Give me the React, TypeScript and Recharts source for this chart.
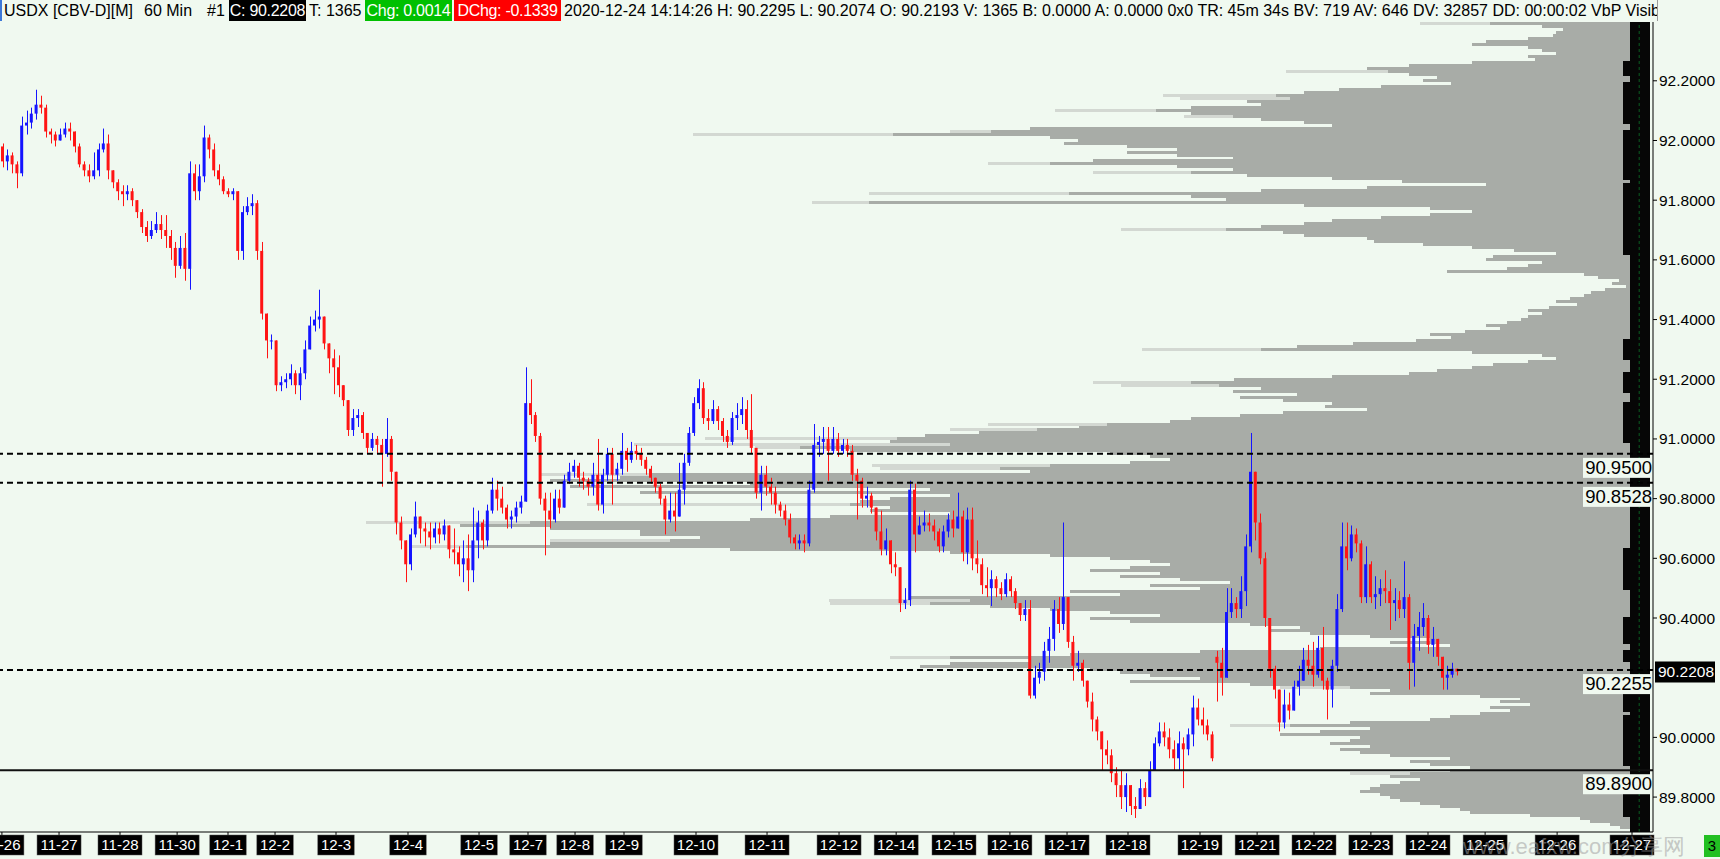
import React from 'react';
import { ComposedChart, BarChart, Bar, XAxis, YAxis, ReferenceLine } from 'recharts';

// chart canvas and plot box
const W = 1720;
const H = 859;
const PLOT_TOP = 22;
const AXIS_W = 67;
const AXIS_H = 27;
const BG = '#f0f9f0';
const UP = '#1414ff';
const DOWN = '#ff1414';
const FONT = '"Liberation Sans", Arial, sans-serif';

// 2-hour candles (open = previous close unless listed)
const FIRST_OPEN = 91.98;
const GAP_OPENS: Record<number, number> = { 253: 90.27 };
const CLOSE = [
  91.93, 91.95, 91.92, 91.89, 92.05, 92.06, 92.09, 92.12, 92.11, 92.03,
  92.02, 92.00, 92.02, 92.04, 92.03, 91.98, 91.92, 91.90, 91.88, 91.90,
  91.97, 91.99, 91.90, 91.86, 91.83, 91.82, 91.83, 91.80, 91.76, 91.71,
  91.68, 91.70, 91.72, 91.70, 91.68, 91.64, 91.58, 91.64, 91.57, 91.89,
  91.83, 91.88, 92.01, 91.97, 91.90, 91.87, 91.83, 91.82, 91.83, 91.63,
  91.76, 91.78, 91.79, 91.63, 91.42, 91.33, 91.33, 91.18, 91.19, 91.20,
  91.22, 91.18, 91.22, 91.30, 91.38, 91.40, 91.41, 91.32, 91.27, 91.24,
  91.18, 91.13, 91.03, 91.07, 91.08, 91.02, 90.97, 91.00, 90.98, 90.95,
  91.00, 90.89, 90.72, 90.66, 90.58, 90.68, 90.74, 90.70, 90.69, 90.67,
  90.70, 90.68, 90.71, 90.63, 90.62, 90.58, 90.60, 90.56, 90.66, 90.72,
  90.66, 90.76, 90.83, 90.80, 90.77, 90.73, 90.74, 90.77, 90.79, 91.12,
  91.08, 91.01, 90.80, 90.76, 90.73, 90.80, 90.77, 90.86, 90.89, 90.91,
  90.87, 90.86, 90.84, 90.88, 90.78, 90.88, 90.95, 90.88, 90.90, 90.96,
  90.93, 90.96, 90.95, 90.93, 90.90, 90.87, 90.84, 90.80, 90.73, 90.76,
  90.74, 90.83, 90.92, 91.02, 91.12, 91.17, 91.07, 91.06, 91.10, 91.06,
  91.01, 90.99, 91.07, 91.08, 91.10, 91.03, 90.97, 90.82, 90.88, 90.84,
  90.82, 90.78, 90.76, 90.73, 90.67, 90.65, 90.66, 90.65, 90.83, 90.98,
  90.99, 91.00, 90.96, 91.00, 90.96, 90.98, 90.96, 90.88, 90.86, 90.80,
  90.81, 90.77, 90.69, 90.63, 90.66, 90.58, 90.57, 90.45, 90.46, 90.83,
  90.68, 90.71, 90.72, 90.71, 90.69, 90.64, 90.69, 90.73, 90.70, 90.74,
  90.62, 90.73, 90.60, 90.58, 90.51, 90.50, 90.53, 90.50, 90.48, 90.53,
  90.49, 90.45, 90.41, 90.43, 90.14, 90.20, 90.22, 90.29, 90.33, 90.43,
  90.38, 90.47, 90.32, 90.24, 90.25, 90.19, 90.12, 90.06, 90.02, 89.96,
  89.94, 89.88, 89.84, 89.80, 89.84, 89.77, 89.76, 89.83, 89.80, 89.89,
  89.98, 90.02, 90.00, 89.96, 89.93, 89.98, 89.96, 90.01, 90.10, 90.06,
  90.04, 90.01, 89.93, 90.25, 90.20, 90.42, 90.45, 90.43, 90.49, 90.64,
  90.89, 90.72, 90.60, 90.40, 90.23, 90.16, 90.05, 90.11, 90.09, 90.17,
  90.19, 90.26, 90.24, 90.21, 90.30, 90.19, 90.16, 90.24, 90.43, 90.64,
  90.60, 90.68, 90.65, 90.47, 90.58, 90.47, 90.48, 90.50, 90.49, 90.45,
  90.46, 90.43, 90.47, 90.25, 90.34, 90.37, 90.40, 90.31, 90.33, 90.27,
  90.20, 90.21, 90.23, 90.2208,
];
const HIGH = [
  91.99, 91.97, 91.96, 91.93, 92.08, 92.10, 92.11, 92.17, 92.15, 92.12,
  92.04, 92.03, 92.04, 92.06, 92.06, 92.03, 91.99, 91.93, 91.92, 91.96,
  91.99, 92.04, 92.02, 91.90, 91.87, 91.85, 91.85, 91.84, 91.80, 91.77,
  91.73, 91.73, 91.76, 91.75, 91.75, 91.70, 91.66, 91.68, 91.69, 91.93,
  91.92, 91.92, 92.05, 92.02, 91.99, 91.92, 91.88, 91.84, 91.84, 91.83,
  91.78, 91.81, 91.82, 91.80, 91.66, 91.42, 91.35, 91.33, 91.21, 91.22,
  91.25, 91.23, 91.24, 91.33, 91.41, 91.43, 91.50, 91.41, 91.31, 91.30,
  91.28, 91.18, 91.13, 91.10, 91.10, 91.09, 91.01, 91.02, 91.01, 91.00,
  91.07, 91.01, 90.89, 90.74, 90.66, 90.70, 90.79, 90.74, 90.72, 90.72,
  90.72, 90.72, 90.73, 90.70, 90.70, 90.64, 90.66, 90.68, 90.77, 90.76,
  90.73, 90.78, 90.87, 90.86, 90.84, 90.78, 90.76, 90.79, 90.81, 91.24,
  91.20, 91.09, 91.02, 90.82, 90.82, 90.83, 90.83, 90.88, 90.92, 90.93,
  90.92, 90.89, 90.87, 90.92, 91.00, 90.90, 90.97, 90.97, 90.92, 91.02,
  90.97, 90.99, 90.98, 90.97, 90.94, 90.91, 90.87, 90.85, 90.81, 90.82,
  90.82, 90.92, 90.95, 91.04, 91.14, 91.20, 91.19, 91.10, 91.13, 91.11,
  91.07, 91.03, 91.09, 91.12, 91.14, 91.13, 91.15, 90.97, 90.91, 90.91,
  90.87, 90.84, 90.79, 90.78, 90.75, 90.68, 90.68, 90.68, 90.86, 91.05,
  91.01, 91.04, 91.04, 91.04, 91.02, 91.00, 91.00, 90.98, 90.90, 90.87,
  90.84, 90.82, 90.77, 90.76, 90.70, 90.64, 90.62, 90.56, 90.50, 90.86,
  90.85, 90.74, 90.76, 90.75, 90.73, 90.70, 90.71, 90.75, 90.76, 90.82,
  90.76, 90.77, 90.77, 90.66, 90.60, 90.57, 90.56, 90.54, 90.52, 90.55,
  90.54, 90.50, 90.45, 90.46, 90.46, 90.24, 90.25, 90.32, 90.37, 90.46,
  90.47, 90.72, 90.47, 90.34, 90.29, 90.26, 90.19, 90.15, 90.07, 90.01,
  89.99, 89.96, 89.90, 89.89, 89.88, 89.83, 89.80, 89.86, 89.85, 89.92,
  90.00, 90.05, 90.05, 90.03, 89.99, 90.02, 90.00, 90.03, 90.14, 90.13,
  90.10, 90.06, 90.02, 90.29, 90.30, 90.50, 90.50, 90.47, 90.54, 90.68,
  91.02, 90.89, 90.75, 90.62, 90.40, 90.24, 90.16, 90.16, 90.15, 90.19,
  90.24, 90.30, 90.31, 90.32, 90.34, 90.37, 90.20, 90.26, 90.48, 90.72,
  90.72, 90.71, 90.70, 90.66, 90.64, 90.59, 90.54, 90.53, 90.56, 90.53,
  90.50, 90.49, 90.59, 90.48, 90.38, 90.42, 90.45, 90.41, 90.37, 90.33,
  90.27, 90.24, 90.25, 90.2295,
];
const LOW = [
  91.91, 91.90, 91.89, 91.84, 91.88, 92.02, 92.04, 92.07, 92.09, 92.01,
  91.99, 91.98, 92.00, 92.01, 92.00, 91.96, 91.91, 91.88, 91.86, 91.87,
  91.88, 91.96, 91.87, 91.84, 91.80, 91.78, 91.80, 91.78, 91.74, 91.69,
  91.66, 91.67, 91.69, 91.67, 91.64, 91.60, 91.54, 91.57, 91.53, 91.50,
  91.80, 91.80, 91.86, 91.94, 91.88, 91.85, 91.82, 91.81, 91.80, 91.60,
  91.60, 91.75, 91.75, 91.60, 91.40, 91.27, 91.30, 91.16, 91.16, 91.17,
  91.18, 91.15, 91.13, 91.20, 91.30, 91.36, 91.37, 91.30, 91.22, 91.15,
  91.14, 91.11, 91.01, 91.01, 91.04, 91.00, 90.95, 90.96, 90.95, 90.84,
  90.94, 90.86, 90.68, 90.63, 90.52, 90.56, 90.67, 90.65, 90.64, 90.63,
  90.65, 90.65, 90.66, 90.60, 90.58, 90.54, 90.52, 90.49, 90.52, 90.60,
  90.63, 90.64, 90.75, 90.76, 90.75, 90.70, 90.70, 90.72, 90.75, 90.79,
  91.05, 90.99, 90.78, 90.61, 90.70, 90.72, 90.75, 90.78, 90.85, 90.87,
  90.84, 90.83, 90.81, 90.81, 90.76, 90.75, 90.86, 90.78, 90.86, 90.88,
  90.89, 90.92, 90.93, 90.91, 90.88, 90.85, 90.82, 90.78, 90.68, 90.72,
  90.69, 90.76, 90.78, 90.91, 91.01, 91.10, 91.05, 91.03, 91.05, 91.03,
  90.99, 90.97, 90.98, 91.03, 91.05, 91.00, 90.95, 90.80, 90.76, 90.81,
  90.78, 90.75, 90.74, 90.71, 90.65, 90.63, 90.63, 90.62, 90.64, 90.82,
  90.94, 90.95, 90.86, 90.95, 90.94, 90.95, 90.94, 90.86, 90.73, 90.77,
  90.77, 90.75, 90.66, 90.61, 90.61, 90.55, 90.54, 90.42, 90.43, 90.44,
  90.62, 90.68, 90.69, 90.69, 90.66, 90.62, 90.62, 90.67, 90.67, 90.70,
  90.59, 90.58, 90.56, 90.55, 90.48, 90.47, 90.44, 90.47, 90.46, 90.47,
  90.47, 90.43, 90.39, 90.39, 90.13, 90.13, 90.18, 90.19, 90.25, 90.29,
  90.35, 90.36, 90.30, 90.19, 90.22, 90.17, 90.10, 90.02, 89.99, 89.89,
  89.91, 89.85, 89.80, 89.76, 89.75, 89.74, 89.73, 89.76, 89.77, 89.80,
  89.89, 89.97, 89.97, 89.93, 89.89, 89.89, 89.83, 89.94, 89.97, 90.04,
  90.01, 89.99, 89.92, 90.12, 90.14, 90.27, 90.40, 90.40, 90.40, 90.44,
  90.62, 90.66, 90.58, 90.37, 90.20, 90.13, 90.02, 90.03, 90.06, 90.09,
  90.14, 90.20, 90.21, 90.17, 90.20, 90.16, 90.06, 90.10, 90.22, 90.42,
  90.56, 90.59, 90.62, 90.45, 90.45, 90.45, 90.43, 90.44, 90.45, 90.36,
  90.39, 90.40, 90.40, 90.16, 90.17, 90.29, 90.34, 90.28, 90.27, 90.24,
  90.16, 90.16, 90.20, 90.2074,
];

// time axis (positions in candle slots) and price axis
const SLOT_MAX = 344.375;
const TIME_TICK_POS = [
  0.4, 12.3, 25, 36.9, 47.5, 57.3, 70, 85, 99.8, 110, 119.8, 130, 145, 159.8,
  174.8, 186.7, 198.75, 210.4, 222.3, 235, 250, 261.9, 273.75, 285.6, 297.5,
  309.4, 324.4, 340,
];
const TIME_TICK_LABELS = [
  '11-26', '11-27', '11-28', '11-30', '12-1', '12-2', '12-3', '12-4', '12-5',
  '12-7', '12-8', '12-9', '12-10', '12-11', '12-12', '12-14', '12-15', '12-16',
  '12-17', '12-18', '12-19', '12-21', '12-22', '12-23', '12-24', '12-25',
  '12-26', '12-27',
];
const PRICE_MIN = 89.683;
const PRICE_MAX = 92.397;
const PRICE_TICKS = [89.8, 90.0, 90.4, 90.6, 90.8, 91.0, 91.2, 91.4, 91.6, 91.8, 92.0, 92.2];
const DASHED_LEVELS = [90.95, 90.8528, 90.2255];
const SOLID_LEVELS = [89.89];
const LAST_PRICE = 90.2208;

// volume-by-price, one row per 0.01 from 92.39 down to 89.69
const PROFILE_TOP = 92.39;
const PROFILE_VOL = [
  160, 108, 87, 94, 97, 122, 164, 178, 122, 108,
  94, 122, 115, 178, 241, 283, 262, 241, 213, 227,
  199, 269, 311, 346, 374, 360, 403, 389, 459, 494,
  459, 417, 389, 346, 318, 620, 659, 757, 600, 572,
  586, 523, 473, 523, 473, 417, 557, 600, 473, 417,
  459, 403, 318, 248, 164, 283, 389, 581, 459, 424,
  781, 346, 220, 178, 220, 269, 318, 346, 389, 424,
  367, 346, 283, 276, 227, 178, 136, 94, 157, 164,
  108, 122, 143, 203, 66, 52, 31, 38, 24, 45,
  59, 66, 80, 94, 73, 101, 122, 108, 122, 129,
  143, 164, 150, 185, 220, 199, 234, 297, 353, 389,
  178, 108, 94, 122, 157, 178, 213, 241, 318, 416,
  459, 431, 389, 417, 353, 410, 367, 318, 325, 283,
  367, 410, 459, 480, 543, 571, 613, 671, 725, 753,
  760, 700, 850, 800, 540, 500, 480, 520, 600, 650,
  620, 1000, 1030, 1100, 900, 1080, 720, 1010, 700, 760,
  790, 800, 760, 780, 700, 820, 900, 1120, 1190, 1100,
  1010, 1010, 950, 980, 1100, 1184, 920, 700, 600, 540,
  500, 480, 520, 560, 490, 530, 470, 420, 500, 450,
  580, 530, 740, 680, 720, 660, 600, 540, 490, 560,
  520, 400, 350, 380, 340, 280, 220, 260, 200, 330,
  450, 580, 700, 620, 700, 730, 560, 530, 500, 450,
  520, 400, 300, 260, 280, 170, 130, 150, 120, 160,
  140, 170, 200, 220, 300, 360, 280, 330, 370, 290,
  300, 320, 280, 310, 290, 260, 200, 240, 220, 180,
  200, 240, 260, 230, 250, 270, 280, 290, 270, 260,
  250, 230, 210, 190, 180, 120, 70, 60, 40, 30,
  20,
];
// thin pale streaks that reach past the profile edge
const PROFILE_LIGHT: [number, number][] = [
  [92.39, 230], [92.23, 364], [92.15, 487], [92.14, 470], [92.10, 595], [92.08, 466],
  [92.03, 700], [92.02, 957], [91.92, 662], [91.89, 557], [91.82, 781], [91.79, 838],
  [91.70, 529], [91.30, 508], [91.19, 557], [91.18, 529], [91.05, 662], [91.03, 700],
  [91.00, 945], [90.98, 1016], [90.97, 895], [90.91, 778], [90.90, 770], [90.88, 1110],
  [90.78, 1063], [90.72, 1284], [90.66, 1100], [90.64, 1238], [90.46, 821], [90.45, 820],
  [90.27, 760], [90.17, 370], [90.04, 420], [89.88, 300],
];
// dark strip at the profile base, wider on these rows
const BLACK_BASE = 20;
const BLACK_WIDE = 27;
const BLACK_WIDE_ROWS: [number, number][] = [
  [13, 17], [20, 33], [36, 52], [54, 62], [63, 77], [106, 112], [117, 123], [127, 140],
  [176, 189], [199, 207], [210, 213], [223, 230], [232, 248], [258, 265],
];
const PROFILE_MAX = 1650;

const candles = CLOSE.map((c, k) => {
  const o = k === 0 ? FIRST_OPEN : GAP_OPENS[k] ?? CLOSE[k - 1];
  const h = Math.max(HIGH[k], o, c);
  const l = Math.min(LOW[k], o, c);
  return { slot: k + 0.5, o, h, l, c, range: [l, h] };
});

const profileRows = PROFILE_VOL.map((v, r) => {
  const price = +(PROFILE_TOP - r * 0.01).toFixed(2);
  const wide = BLACK_WIDE_ROWS.some(([a, b]) => r >= a && r <= b);
  const black = Math.min(v, wide ? BLACK_WIDE : BLACK_BASE);
  const pale = PROFILE_LIGHT.find(([p]) => Math.abs(p - price) < 0.001);
  return { price: price.toFixed(2), black, gray: Math.max(0, v - black), light: pale ? pale[1] : 0 };
});

// candle body + wick from the [low, high] bar the library lays out
const Candle = (props: any) => {
  let { x, y, width, height } = props;
  const { o, h, l, c } = props.payload;
  if (height < 0) { y += height; height = -height; }
  const color = c >= o ? UP : DOWN;
  const per = height / Math.max(h - l, 1e-6);
  const bodyTop = y + (h - Math.max(o, c)) * per;
  const bodyH = Math.max(1, Math.abs(c - o) * per);
  const cx = Math.round(x + width / 2) + 0.5;
  return (
    <g>
      <line x1={cx} x2={cx} y1={y} y2={y + Math.max(height, 1)} stroke={color} strokeWidth={1} />
      <rect x={x} y={bodyTop} width={width} height={bodyH} fill={color} />
    </g>
  );
};

// profile row without anti-aliased seams
const Row = (props: any) => {
  let { x, y, width, height, fill } = props;
  if (!width || !height) return null;
  if (width < 0) { x += width; width = -width; }
  if (height < 0) { y += height; height = -height; }
  return <rect x={x} y={y} width={width} height={height} fill={fill} shapeRendering="crispEdges" />;
};

const TimeTick = (props: any) => {
  const { x, y, payload } = props;
  const idx = TIME_TICK_POS.indexOf(payload.value);
  const label = TIME_TICK_LABELS[idx] ?? '';
  const w = label.length * 7.6 + 6;
  return (
    <g>
      <rect x={x - w / 2} y={y} width={w} height={20} fill="#000" stroke="#555" strokeWidth={0.5} />
      <text x={x} y={y + 15} textAnchor="middle" fill="#fff" fontSize={15} fontFamily={FONT}>
        {label}
      </text>
    </g>
  );
};

const LevelLabel = (props: any) => {
  const { viewBox, text } = props;
  if (!viewBox) return null;
  const right = viewBox.x + viewBox.width;
  const top = viewBox.y + 4;
  return (
    <g>
      <rect x={right - 70} y={top} width={69} height={20} fill={BG} />
      <text x={right - 1} y={top + 16} textAnchor="end" fontSize={18.5} fontFamily={FONT} fill="#000">
        {text}
      </text>
    </g>
  );
};

const PriceBox = (props: any) => {
  const { viewBox, text } = props;
  if (!viewBox) return null;
  const left = viewBox.x + viewBox.width + 2;
  return (
    <g>
      <rect x={left} y={viewBox.y - 10} width={60} height={21} fill="#000" />
      <text x={left + 3} y={viewBox.y + 6} fontSize={15.5} fontFamily={FONT} fill="#fff">
        {text}
      </text>
    </g>
  );
};

const margin = { top: PLOT_TOP, right: 0, bottom: 0, left: 0 };
const profileMargin = { top: PLOT_TOP, right: AXIS_W, bottom: AXIS_H, left: 0 };

const ProfileLayer = ({ keys, colors }: { keys: string[]; colors: string[] }) => (
  <BarChart layout="vertical" width={W} height={H} data={profileRows} margin={profileMargin} barCategoryGap={0}>
    <XAxis type="number" hide reversed domain={[-3, PROFILE_MAX]} allowDataOverflow />
    <YAxis type="category" dataKey="price" hide />
    {keys.map((k, i) => (
      <Bar key={k} dataKey={k} stackId="p" fill={colors[i]} shape={<Row />} isAnimationActive={false} />
    ))}
  </BarChart>
);

const headText: React.CSSProperties = { position: 'absolute', top: 0, lineHeight: '21px', height: 21 };
const headBox = (bg: string, left: number, width: number): React.CSSProperties => ({
  ...headText, left, width, background: bg, color: '#fff', textAlign: 'center',
});

const Header = () => (
  <div style={{
    position: 'absolute', left: 0, top: 0, width: 1658, height: 21, overflow: 'hidden',
    whiteSpace: 'nowrap', fontFamily: FONT, fontSize: 16, color: '#000',
    borderLeft: '2px solid #3c78d8', borderRight: '1px solid #9a9a9a', boxSizing: 'border-box',
  }}>
    <span style={{ ...headText, left: 2 }}>USDX [CBV-D][M]</span>
    <span style={{ ...headText, left: 142 }}>60 Min</span>
    <span style={{ ...headText, left: 205 }}>#1</span>
    <span style={{ ...headBox('#000', 227, 77), letterSpacing: -0.3 }}>C: 90.2208</span>
    <span style={{ ...headText, left: 307 }}>T: 1365</span>
    <span style={{ ...headBox('#00c000', 363, 87), letterSpacing: -0.3 }}>Chg: 0.0014</span>
    <span style={{ ...headBox('#ff0000', 452, 107), letterSpacing: -0.3 }}>DChg: -0.1339</span>
    <span style={{ ...headText, left: 562 }}>
      2020-12-24 14:14:26 H: 90.2295 L: 90.2074 O: 90.2193 V: 1365 B: 0.0000 A: 0.0000 0x0 TR: 45m 34s BV: 719 AV: 646 DV: 32857 DD: 00:00:02 VbP Visible
    </span>
  </div>
);

const App = () => {
  return (
    <div style={{ position: 'absolute', left: 0, top: 0, width: W, height: H, background: BG, overflow: 'hidden' }}>
      <div style={{ position: 'absolute', left: 0, top: 0 }}>
        <ProfileLayer keys={['light']} colors={['#d3d8d2']} />
      </div>
      <div style={{ position: 'absolute', left: 0, top: 0 }}>
        <ProfileLayer keys={['black', 'gray']} colors={['#060606', '#a8aca7']} />
      </div>
      <div style={{ position: 'absolute', left: 0, top: 0 }}>
        <ComposedChart width={W} height={H} data={candles} margin={margin}>
          <XAxis
            type="number"
            dataKey="slot"
            domain={[0, SLOT_MAX]}
            allowDataOverflow
            ticks={TIME_TICK_POS}
            interval={0}
            height={AXIS_H}
            tickSize={3}
            tickMargin={0}
            tick={<TimeTick />}
            axisLine={{ stroke: '#000' }}
            tickLine={{ stroke: '#000' }}
          />
          <YAxis
            type="number"
            orientation="right"
            width={AXIS_W}
            domain={[PRICE_MIN, PRICE_MAX]}
            allowDataOverflow
            ticks={PRICE_TICKS}
            interval={0}
            tickFormatter={(v: number) => v.toFixed(4)}
            tickSize={4}
            tickMargin={2}
            tick={{ fill: '#000', fontSize: 15.5, fontFamily: FONT }}
            axisLine={{ stroke: '#000' }}
            tickLine={{ stroke: '#000' }}
          />
          <Bar dataKey="range" barSize={3} shape={<Candle />} isAnimationActive={false} />
          <ReferenceLine x={341.5} stroke="#0b5d22" strokeDasharray="3 3" />
          {DASHED_LEVELS.map((p) => (
            <ReferenceLine
              key={p}
              y={p}
              stroke="#000"
              strokeWidth={2}
              strokeDasharray="6 4"
              label={<LevelLabel text={p.toFixed(4)} />}
            />
          ))}
          {SOLID_LEVELS.map((p) => (
            <ReferenceLine key={p} y={p} stroke="#111" strokeWidth={2} label={<LevelLabel text={p.toFixed(4)} />} />
          ))}
          <ReferenceLine y={LAST_PRICE} stroke="none" label={<PriceBox text={LAST_PRICE.toFixed(4)} />} />
        </ComposedChart>
      </div>
      <Header />
      <div style={{
        position: 'absolute', left: 1463, top: 832, fontFamily: FONT, fontSize: 22,
        color: 'rgba(160,160,160,0.55)', whiteSpace: 'nowrap',
      }}>
        www.eafxw.com分享网
      </div>
      <div style={{
        position: 'absolute', left: 1704, top: 835, width: 16, height: 22, background: '#22c022',
        color: '#000', fontFamily: FONT, fontSize: 15, lineHeight: '22px', textAlign: 'center',
      }}>
        3
      </div>
    </div>
  );
};

export default App;
